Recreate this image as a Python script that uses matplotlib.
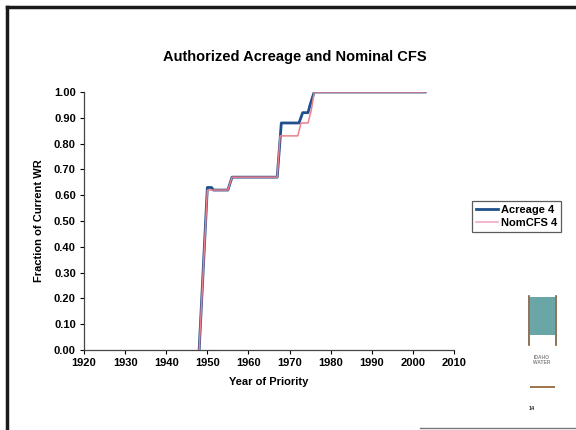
import numpy as np
import matplotlib.pyplot as plt
from matplotlib.lines import Line2D
from matplotlib.patches import Rectangle

plt.rcParams['font.family'] = ['Liberation Sans', 'DejaVu Sans']
plt.rcParams['font.weight'] = 'bold'

# cumulative fraction of current water rights by priority year
acreage_year = [1948, 1950, 1951, 1951.5, 1955, 1956, 1967, 1968, 1972.3, 1973.2,
                1974.5, 1975, 1976, 2003]
acreage_frac = [0.00, 0.63, 0.63, 0.62, 0.62, 0.67, 0.67, 0.88, 0.88, 0.92,
                0.92, 0.95, 1.00, 1.00]

nomcfs_year = [1948, 1950, 1955, 1956, 1967, 1967.7, 1972, 1972.8, 1974.5, 1975.3,
               1976, 2003]
nomcfs_frac = [0.00, 0.62, 0.62, 0.67, 0.67, 0.83, 0.83, 0.88, 0.88, 0.93,
               1.00, 1.00]

xticks = np.arange(1920, 2011, 10)
yticks = np.arange(0, 1.01, 0.1)

fig = plt.figure(figsize=(5.76, 4.3), dpi=100)
ax = fig.add_axes([0.146, 0.186, 0.642, 0.600])

ax.plot(acreage_year, acreage_frac, color='#1f4f8c', lw=2.0, label='Acreage 4', zorder=2)
ax.plot(nomcfs_year, nomcfs_frac, color='#ec7f8c', lw=1.1, label='NomCFS 4', zorder=3)

ax.set_xlim(1920, 2010)
ax.set_ylim(0, 1)
ax.set_xticks(xticks)
ax.set_yticks(yticks)
ax.set_yticklabels(['%.2f' % v for v in yticks])
ax.tick_params(labelsize=8, direction='out', length=3, width=0.8, pad=3)
for s in ['top', 'right']:
    ax.spines[s].set_visible(False)
for s in ['left', 'bottom']:
    ax.spines[s].set_color('#444444')
    ax.spines[s].set_linewidth(0.9)

ax.set_xlabel('Year of Priority', fontsize=8, fontweight='bold', labelpad=6)
ax.set_ylabel('Fraction of Current WR', fontsize=8, fontweight='bold', labelpad=7)
fig.text(0.512, 0.867, 'Authorized Acreage and Nominal CFS', ha='center', va='center',
         fontsize=10.5, fontweight='bold')

leg_handles = [Line2D([], [], color='#1f4f8c', lw=2),
               Line2D([], [], color='#f4a8c6', lw=1.2)]
leg = fig.legend(leg_handles, ['Acreage 4', 'NomCFS 4'], loc='center',
                 bbox_to_anchor=(0.897, 0.497), fontsize=8, frameon=True,
                 fancybox=False, handlelength=2.0, handletextpad=0.3,
                 borderpad=0.35, labelspacing=0.25, borderaxespad=0)
leg.get_frame().set_edgecolor('#333333')
leg.get_frame().set_linewidth(0.9)

# slide border
fig.add_artist(Line2D([7 / 576, 1], [1 - 7 / 430, 1 - 7 / 430], color='#1a1a1a', lw=2.5))
fig.add_artist(Line2D([7 / 576, 7 / 576], [0, 1 - 7 / 430], color='#1a1a1a', lw=2.5))
fig.add_artist(Line2D([420 / 576, 1], [2 / 430, 2 / 430], color='#777777', lw=1))

# logo block
fig.add_artist(Rectangle((530 / 576, 1 - 335 / 430), 25 / 576, 38 / 430,
                         facecolor='#6aa6a8', edgecolor='none'))
fig.add_artist(Line2D([529 / 576, 529 / 576], [1 - 345 / 430, 1 - 296 / 430],
                      color='#7a5a3a', lw=1.2))
fig.add_artist(Line2D([556 / 576, 556 / 576], [1 - 345 / 430, 1 - 296 / 430],
                      color='#7a5a3a', lw=1.2))
fig.add_artist(Rectangle((530 / 576, 1 - 388 / 430), 25 / 576, 2.5 / 430,
                         facecolor='#a07850', edgecolor='none'))
fig.text(542 / 576, 1 - 360 / 430, 'IDAHO\nWATER', ha='center', va='center',
         fontsize=3.5, color='#888888', linespacing=1.1)
fig.text(532 / 576, 1 - 408 / 430, '14', ha='center', va='center',
         fontsize=4, color='#333333')

fig.savefig('out.png', dpi=100)
